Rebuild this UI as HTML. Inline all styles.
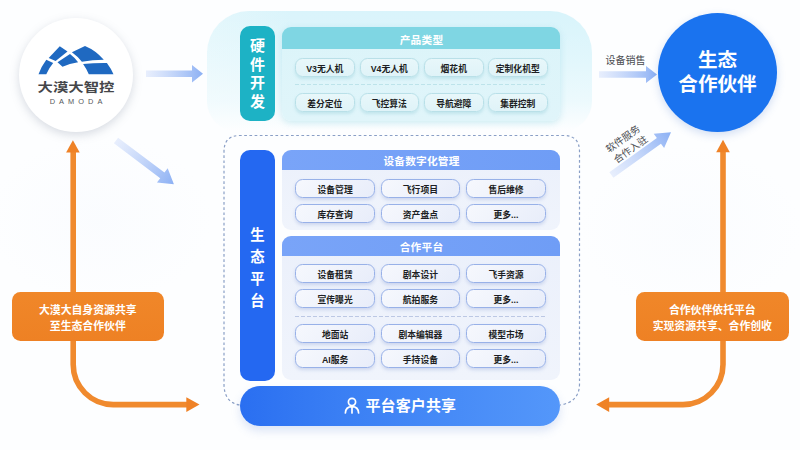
<!DOCTYPE html>
<html lang="zh-CN">
<head>
<meta charset="utf-8">
<title>大漠大智控 生态平台</title>
<style>
*{box-sizing:border-box;margin:0;padding:0}
html,body{width:800px;height:450px;overflow:hidden;background:#fdfeff}
body{position:relative;font-family:"Liberation Sans","Noto Sans CJK SC",sans-serif;font-weight:700;color:#1d1f24}
.abs{position:absolute}
#bg{left:0;top:0;width:800px;height:450px;background:
 radial-gradient(ellipse 160px 120px at 100px 220px,rgba(240,245,253,.22),rgba(255,255,255,0) 70%),
 radial-gradient(ellipse 160px 120px at 690px 230px,rgba(240,245,253,.2),rgba(255,255,255,0) 70%),
 #fdfeff}
/* top panel */
#topOuter{left:207px;top:11px;width:384.5px;height:120px;border-radius:42px 42px 30px 30px;
 background:linear-gradient(180deg,rgba(253,254,255,0) 0%,rgba(253,254,255,.25) 40%,rgba(253,254,255,.55) 75%,#fdfeff 100%),linear-gradient(90deg,#e3f7fc 0%,#daf4fb 22%,#d8f4fb 100%)}
.vlabel{width:35px;border-radius:10px;color:#fff;text-align:center;display:flex;flex-direction:column;justify-content:center;align-items:center}
#vTeal{left:240px;top:26px;height:95px;background:#1db2c5;font-size:15px;line-height:18.7px;padding-top:1.8px}
#vBlue{left:240px;top:150px;height:231px;background:#2468f1;font-size:14.4px;line-height:21.9px;padding-top:7px}
.panel{left:282px;width:278px;border-radius:9px;overflow:hidden}
#pTeal{top:27px;height:93.5px;background:linear-gradient(180deg,#dbf4f9,#e0f5fa);box-shadow:0 2px 7px rgba(150,215,228,.45)}
.hd{position:absolute;left:0;top:0;width:100%;color:#fff;font-size:10.7px;text-align:center;letter-spacing:.2px;padding-left:1px}
#pTeal .hd{height:22px;line-height:26.4px;background:#7fd6e3}
.pill{position:absolute;height:19px;line-height:18px;font-size:8.8px;text-align:center;border-radius:7.5px;white-space:nowrap}
.t{width:59.5px;height:19.3px;line-height:20px;background:linear-gradient(180deg,#e8f7fa,#dff3f8);border:1px solid #b9e0e8;box-shadow:0 2px 3px rgba(110,185,200,.26)}
.b{width:79.4px;height:19.3px;line-height:20.6px;background:linear-gradient(135deg,#f6f8fd,#e8edfa);border:1px solid #98b1e8;box-shadow:0 2px 3.5px rgba(125,150,210,.3)}
.dash{position:absolute;height:1px}
#pB1{top:150px;height:80px;background:linear-gradient(180deg,#ebf0fb,#f0f4fc)}
#pB2{top:236px;height:144px;background:linear-gradient(180deg,#ebf0fb,#f0f4fc)}
#pB1 .hd,#pB2 .hd{height:19.7px;line-height:23px;background:linear-gradient(90deg,#79a4f8,#6f9df6)}
#bar{left:239.5px;top:385.5px;width:320.5px;height:40px;border-radius:20px;background:linear-gradient(90deg,#2a6ff1 0%,#3a7ff4 32%,#5497fa 100%);box-shadow:0 5px 10px rgba(90,130,210,.2);color:#fff;font-size:15px;line-height:39px}
#bar span{position:absolute;left:126px;top:0;letter-spacing:.1px}
#logoC{left:19px;top:18px;width:114px;height:114px;border-radius:57px;background:#fff;box-shadow:0 3px 10px rgba(120,130,150,.28)}
#logoT{left:26px;top:77.3px;width:100px;text-align:center;font-size:12.4px;line-height:22px;color:#454649;transform:scaleX(1.24);transform-origin:50% 50%}
#logoE{left:26px;top:96.5px;width:101px;text-align:center;font-size:7.4px;line-height:10px;color:#55575b;letter-spacing:4.05px;font-weight:400;padding-left:3.2px}
#eco{left:658px;top:13px;width:119px;height:119px;border-radius:60px;background:#1a73ef;box-shadow:0 3px 8px rgba(60,110,200,.22);color:#fff;font-size:19.6px;line-height:24.8px;text-align:center;padding-top:34.5px}
.ob{height:48.3px;top:292.4px;border-radius:8.5px;background:linear-gradient(180deg,#f08729,#ee8124);color:#fff;font-size:10.85px;line-height:15.8px;text-align:center;padding-top:10.4px}
#ob1{left:11.7px;width:152.2px}
#ob2{left:635.8px;width:153px}
.lab{font-weight:400;color:#4a4c50;font-size:10px;line-height:12px;white-space:nowrap}
svg{position:absolute;left:0;top:0}
</style>
</head>
<body>
<div id="bg" class="abs"></div>
<div id="topOuter" class="abs"></div>

<svg width="800" height="450" viewBox="0 0 800 450">
 <defs>
  <linearGradient id="ga" x1="0" y1="0" x2="1" y2="0"><stop offset="0" stop-color="#dfe8fc" stop-opacity=".7"/><stop offset="1" stop-color="#8cb0f4"/></linearGradient>
  <linearGradient id="gb" gradientUnits="userSpaceOnUse" x1="115" y1="140" x2="176" y2="185"><stop offset="0" stop-color="#dfe8fc" stop-opacity=".7"/><stop offset="1" stop-color="#8cb0f4"/></linearGradient>
  <linearGradient id="gc" gradientUnits="userSpaceOnUse" x1="610" y1="175" x2="670" y2="131"><stop offset="0" stop-color="#dfe8fc" stop-opacity=".7"/><stop offset="1" stop-color="#8cb0f4"/></linearGradient>
 </defs>
 <!-- dashed container -->
 <path d="M239.5 405 C229 403 224 396 224 384 L224 151.5 Q224 135.5 240 135.5 L563.5 135.5 Q579.5 135.5 579.5 151.5 L579.5 384 C579.5 396 573 403 560 405" fill="none" stroke="#8a9fc6" stroke-width="1.2" stroke-dasharray="2.7 2.5"/>
 <!-- blue arrows -->
 <path d="M146 70.5 L192 70.5 L192 65 L203 73.7 L192 82.5 L192 77 L146 77 Z" fill="url(#ga)"/>
 <path d="M599 71.2 L646 71.2 L646 66 L657 74.5 L646 83 L646 77.8 L599 77.8 Z" fill="url(#ga)"/>
 <g transform="translate(116 140.5) rotate(37)"><path d="M0 -3.5 L58 -3.5 L58 -8.9 L72.5 0 L58 8.9 L58 3.5 L0 3.5 Z" fill="url(#ga)"/></g>
 <g transform="translate(611.4 175) rotate(-35.7)"><path d="M0 -3.5 L58.5 -3.5 L58.5 -8.9 L73.4 0 L58.5 8.9 L58.5 3.5 L0 3.5 Z" fill="url(#ga)"/></g>
 <!-- orange arrows -->
 <path d="M73.2 152 L73.2 364.6 A40 40 0 0 0 113.2 404.6 L188 404.6" fill="none" stroke="#f08a2e" stroke-width="5.6"/>
 <path d="M72.9 140.2 L79.7 152.6 L66.1 152.6 Z" fill="#ef8226"/>
 <path d="M199.5 404.6 L186.3 397.3 L186.3 411.9 Z" fill="#ef8226"/>
 <path d="M723 152 L723 364.6 A40 40 0 0 1 683 404.6 L608 404.6" fill="none" stroke="#f08a2e" stroke-width="5.6"/>
 <path d="M723 139.8 L729.8 152.2 L716.2 152.2 Z" fill="#ef8226"/>
 <path d="M596.2 404.6 L609.2 397.3 L609.2 411.9 Z" fill="#ef8226"/>
</svg>

<div id="logoC" class="abs"></div>
<svg width="800" height="450" viewBox="0 0 800 450">
 <g fill="#1f69c1">
  <path d="M38.5 74.2 Q41.6 66 46.3 59.7 L53.2 62.9 Q48.8 68 46.3 74.2 Z"/>
  <path d="M48.7 57.9 L59.8 46.2 L67.5 51.6 L55.6 61.1 Z"/>
  <path d="M57.5 62.3 L70 54.1 Q74.8 57.8 78.1 62.3 Q69.5 63.4 62.5 66.7 Z"/>
  <path d="M71.9 52.3 L85 46 Q96 50.6 103.8 59.8 Q92.5 59.9 81.9 61.7 Q77.6 56.4 71.9 52.3 Z"/>
  <path d="M83.1 64.1 Q94.5 62.7 106.9 62.9 Q111 68.3 113.5 74.2 L88.8 74.2 Q86.5 69 83.1 64.1 Z"/>
 </g>
</svg>
<div id="logoT" class="abs">大漠大智控</div>
<div id="logoE" class="abs">DAMODA</div>

<div id="vTeal" class="abs vlabel"><span>硬</span><span>件</span><span>开</span><span>发</span></div>
<div id="pTeal" class="abs panel">
 <div class="hd">产品类型</div>
 <div class="pill t" style="left:13px;top:31.2px">V3无人机</div>
 <div class="pill t" style="left:77.5px;top:31.2px">V4无人机</div>
 <div class="pill t" style="left:142px;top:31.2px">烟花机</div>
 <div class="pill t" style="left:206px;top:31.2px">定制化机型</div>
 <div class="dash" style="left:13px;width:252px;top:57px;background:repeating-linear-gradient(90deg,#bde3ea 0,#bde3ea 3.6px,transparent 3.6px,transparent 6px)"></div>
 <div class="pill t" style="left:13px;top:65.6px">差分定位</div>
 <div class="pill t" style="left:77.5px;top:65.6px">飞控算法</div>
 <div class="pill t" style="left:142px;top:65.6px">导航避障</div>
 <div class="pill t" style="left:206px;top:65.6px">集群控制</div>
</div>

<div id="vBlue" class="abs vlabel"><span>生</span><span>态</span><span>平</span><span>台</span></div>
<div id="pB1" class="abs panel">
 <div class="hd">设备数字化管理</div>
 <div class="pill b" style="left:13.4px;top:28.5px">设备管理</div>
 <div class="pill b" style="left:98.7px;top:28.5px">飞行项目</div>
 <div class="pill b" style="left:184.3px;top:28.5px">售后维修</div>
 <div class="pill b" style="left:13.4px;top:53.5px">库存查询</div>
 <div class="pill b" style="left:98.7px;top:53.5px">资产盘点</div>
 <div class="pill b" style="left:184.3px;top:53.5px">更多...</div>
</div>
<div id="pB2" class="abs panel">
 <div class="hd">合作平台</div>
 <div class="pill b" style="left:13.4px;top:28px">设备租赁</div>
 <div class="pill b" style="left:98.7px;top:28px">剧本设计</div>
 <div class="pill b" style="left:184.3px;top:28px">飞手资源</div>
 <div class="pill b" style="left:13.4px;top:53px">宣传曝光</div>
 <div class="pill b" style="left:98.7px;top:53px">航拍服务</div>
 <div class="pill b" style="left:184.3px;top:53px">更多...</div>
 <div class="dash" style="left:13px;width:252px;top:80px;background:repeating-linear-gradient(90deg,#bcc8e4 0,#bcc8e4 3.6px,transparent 3.6px,transparent 6px)"></div>
 <div class="pill b" style="left:13.4px;top:88px">地面站</div>
 <div class="pill b" style="left:98.7px;top:88px">剧本编辑器</div>
 <div class="pill b" style="left:184.3px;top:88px">模型市场</div>
 <div class="pill b" style="left:13.4px;top:113px">AI服务</div>
 <div class="pill b" style="left:98.7px;top:113px">手持设备</div>
 <div class="pill b" style="left:184.3px;top:113px">更多...</div>
</div>

<div id="bar" class="abs">
 <svg width="16" height="17" viewBox="0 0 16 17" style="left:104.8px;top:11.8px"><circle cx="8" cy="5" r="3.6" fill="none" stroke="#fff" stroke-width="1.7"/><path d="M1.4 16 Q1.6 9.6 8 9.6 Q14.4 9.6 14.6 16 M8 9.8 L8 16" fill="none" stroke="#fff" stroke-width="1.7" stroke-linecap="round"/></svg>
 <span>平台客户共享</span>
</div>

<div id="eco" class="abs">生态<br>合作伙伴</div>

<div class="abs lab" style="left:605.5px;top:55.4px">设备销售</div>
<div class="abs lab" style="left:597px;top:132px;width:60px;text-align:center;transform:rotate(-35.7deg);transform-origin:50% 50%;line-height:12.5px;font-size:9.8px">软件服务<br>合作入驻</div>

<div id="ob1" class="abs ob">大漠大自身资源共享<br>至生态合作伙伴</div>
<div id="ob2" class="abs ob">合作伙伴依托平台<br>实现资源共享、合作创收</div>
</body>
</html>
